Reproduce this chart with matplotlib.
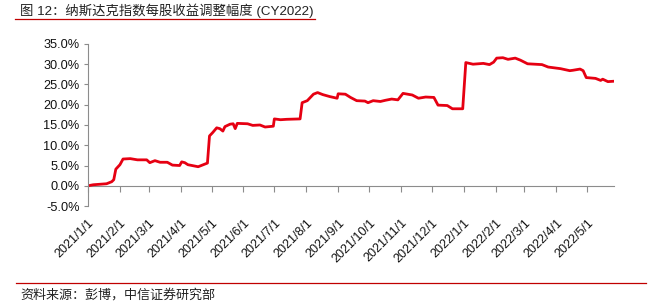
import matplotlib
matplotlib.use("Agg")
import matplotlib.pyplot as plt
import matplotlib.dates as mdates
from matplotlib.ticker import FuncFormatter
import pandas as pd

# 纳斯达克指数每股收益调整幅度 (CY2022), %
dates = [
    "2021-01-01", "2021-01-06", "2021-01-19", "2021-01-24", "2021-01-26", "2021-01-28",
    "2021-02-01", "2021-02-04", "2021-02-11", "2021-02-18", "2021-02-27", "2021-03-02",
    "2021-03-07", "2021-03-12", "2021-03-19", "2021-03-24", "2021-03-31", "2021-04-02",
    "2021-04-05", "2021-04-08", "2021-04-18", "2021-04-23", "2021-04-27", "2021-04-29",
    "2021-05-02", "2021-05-06", "2021-05-09", "2021-05-12", "2021-05-14", "2021-05-19",
    "2021-05-22", "2021-05-24", "2021-05-26", "2021-06-05", "2021-06-10", "2021-06-17",
    "2021-06-22", "2021-06-30", "2021-07-01", "2021-07-07", "2021-07-13", "2021-07-26",
    "2021-07-28", "2021-08-02", "2021-08-08", "2021-08-12", "2021-08-17", "2021-08-24",
    "2021-08-31", "2021-09-01", "2021-09-08", "2021-09-13", "2021-09-19", "2021-09-27",
    "2021-09-30", "2021-10-05", "2021-10-12", "2021-10-17", "2021-10-23", "2021-10-29",
    "2021-11-03", "2021-11-12", "2021-11-18", "2021-11-25", "2021-12-03", "2021-12-07",
    "2021-12-16", "2021-12-21", "2021-12-31", "2022-01-03", "2022-01-10", "2022-01-20",
    "2022-01-26", "2022-01-30", "2022-02-02", "2022-02-08", "2022-02-13", "2022-02-20",
    "2022-02-25", "2022-03-04", "2022-03-18", "2022-03-24", "2022-04-05", "2022-04-14",
    "2022-04-17", "2022-04-24", "2022-04-27", "2022-04-30", "2022-05-09", "2022-05-14",
    "2022-05-16", "2022-05-21", "2022-05-27",
]
values = [
    0.0, 0.25, 0.5, 1.0, 1.5, 4.1,
    5.2, 6.6, 6.7, 6.4, 6.4, 5.7,
    6.2, 5.8, 5.8, 5.1, 5.0, 5.9,
    5.7, 5.2, 4.7, 5.2, 5.6, 12.3,
    13.1, 14.3, 14.1, 13.5, 14.6, 15.2,
    15.3, 14.1, 15.4, 15.3, 14.9, 15.0,
    14.5, 14.7, 16.5, 16.3, 16.4, 16.5,
    20.5, 21.0, 22.6, 23.0, 22.5, 22.0,
    21.6, 22.7, 22.6, 21.8, 21.0, 20.9,
    20.5, 21.0, 20.8, 21.1, 21.4, 21.2,
    22.8, 22.4, 21.6, 21.9, 21.8, 19.9,
    19.8, 19.0, 19.0, 30.4, 30.0, 30.2,
    29.9, 30.5, 31.5, 31.6, 31.2, 31.5,
    31.0, 30.1, 29.9, 29.3, 28.9, 28.4,
    28.5, 28.8, 28.4, 26.7, 26.5, 26.0,
    26.3, 25.7, 25.8,
]
month_ticks = pd.date_range("2021-01-01", "2022-05-01", freq="MS")
tick_labels = [f"{d.year}/{d.month}/1" for d in month_ticks]
yticks = [-5, 0, 5, 10, 15, 20, 25, 30, 35]

title = "图 12：纳斯达克指数每股收益调整幅度 (CY2022)"
source = "资料来源：彭博，中信证券研究部"

fonts = ["Liberation Sans", "Noto Sans CJK SC", "DejaVu Sans"]
plt.rcParams["font.family"] = fonts
red = "#E60012"
gray = "#8C8C8C"

fig = plt.figure(figsize=(6.54, 3.03), dpi=100)
ax = fig.add_axes([0.1346, 0.320, 0.8043, 0.535])

x = pd.to_datetime(dates)
ax.plot(x, values, color=red, lw=2.0, solid_joinstyle="round")

ax.set_xlim(mdates.date2num(pd.Timestamp("2021-01-01")),
            mdates.date2num(pd.Timestamp("2022-05-27")))
ax.set_ylim(-5, 35)
ax.set_yticks(yticks)
ax.yaxis.set_major_formatter(FuncFormatter(lambda v, p: f"{v:.1f}%"))
ax.tick_params(axis="y", direction="out", length=3, color=gray, width=0.8,
               labelsize=9.2, pad=3, labelcolor="#111111")

tick_nums = mdates.date2num(month_ticks)
ax.set_xticks(tick_nums)
ax.set_xticklabels(tick_labels, rotation=45, ha="right", va="top",
                   rotation_mode="anchor", fontsize=9, color="#111111")
ax.tick_params(axis="x", length=0, pad=8)

for s in ["top", "right", "bottom"]:
    ax.spines[s].set_visible(False)
ax.spines["left"].set_color(gray)
ax.spines["left"].set_linewidth(0.8)

# zero line with month ticks
sec = ax.secondary_xaxis(0.125)
sec.set_xticks(tick_nums)
sec.tick_params(axis="x", direction="out", length=4, color=gray, width=0.8,
                labelbottom=False)
sec.spines["bottom"].set_color(gray)
sec.spines["bottom"].set_linewidth(0.8)

fig.text(20 / 654, 1 - 11 / 303, title, fontsize=9.6, color="#222222",
         ha="left", va="center")
fig.add_artist(plt.Line2D([15 / 654, 315 / 654], [1 - 19 / 303, 1 - 19 / 303],
                          color="#C00000", lw=0.9))
fig.add_artist(plt.Line2D([16 / 654, 646 / 654], [1 - 283 / 303, 1 - 283 / 303],
                          color="#C00000", lw=0.9))
fig.text(20 / 654, 1 - 295 / 303, source, fontsize=9.4, color="#222222",
         ha="left", va="center")

fig.savefig("out.png", dpi=100)
